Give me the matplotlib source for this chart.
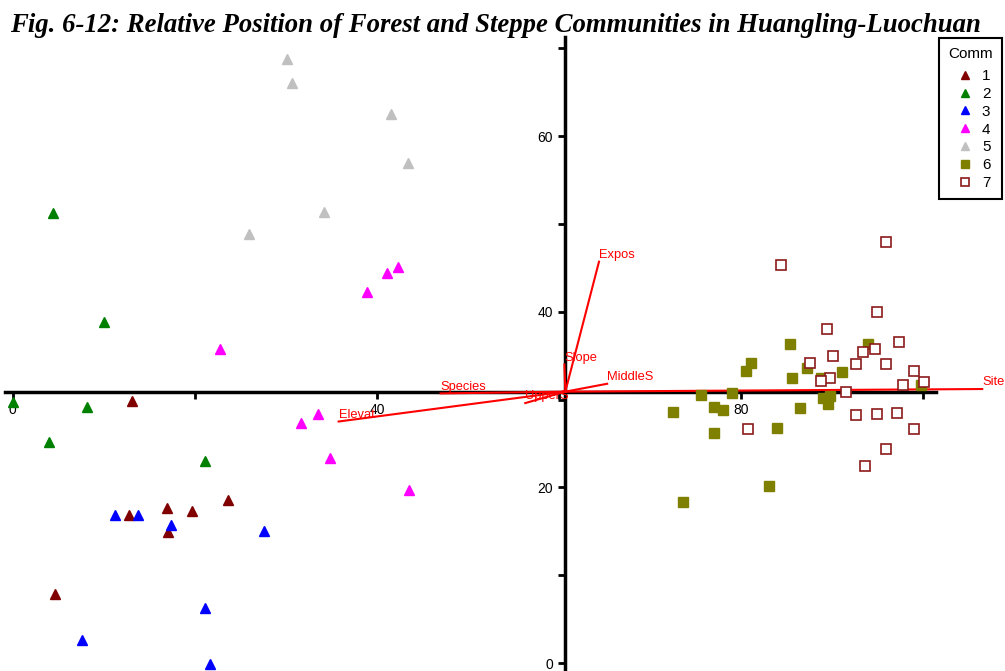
import matplotlib
matplotlib.use('Agg')
import matplotlib.pyplot as plt
from matplotlib.lines import Line2D

plt.rcParams['font.family'] = ['Liberation Sans', 'DejaVu Sans']

# ── Data ─────────────────────────────────────────────────────────────
comm_labels = ['1', '2', '3', '4', '5', '6', '7']

c1_x = [13.1, 4.6, 12.8, 16.9, 19.7, 23.6, 17.0]
c1_y = [29.8, 7.9, 16.8, 17.6, 17.3, 18.6, 14.9]

c2_x = [4.4, 10.0, 0.0, 8.2, 4.0, 21.1]
c2_y = [51.3, 38.8, 29.7, 29.1, 25.2, 23.0]

c3_x = [11.2, 13.8, 17.4, 27.6, 21.1, 7.6, 21.7]
c3_y = [16.8, 16.8, 15.7, 15.0, 6.3, 2.6, -0.1]

c4_x = [42.3, 41.1, 38.9, 22.8, 33.5, 31.7, 34.9, 43.5]
c4_y = [45.1, 44.4, 42.3, 35.8, 28.4, 27.3, 23.3, 19.7]

c5_x = [30.1, 30.7, 41.6, 43.4, 34.2, 25.9]
c5_y = [68.8, 66.0, 62.5, 56.9, 51.4, 48.9]

c6_x = [85.4, 93.9, 81.1, 80.6, 87.3, 85.6, 88.8, 91.1, 75.6, 79.0, 89.0,
        89.8, 89.6, 99.8, 72.5, 77.0, 78.0, 86.5, 77.0, 83.9, 83.1, 73.6]
c6_y = [36.3, 36.3, 34.2, 33.3, 33.6, 32.5, 32.5, 33.1, 30.5, 30.7, 30.2,
        30.4, 29.5, 31.7, 28.6, 29.2, 28.8, 29.0, 26.2, 26.8, 20.2, 18.3]

c7_x = [95.9, 84.4, 94.9, 89.5, 97.4, 94.7, 93.4, 90.1, 87.6, 92.6, 95.9, 99.0,
        89.8, 88.8, 100.1, 97.8, 91.5, 92.6, 94.9, 97.1, 80.8, 99.0, 95.9, 93.6]
c7_y = [47.9, 45.3, 40.0, 38.0, 36.5, 35.8, 35.4, 35.0, 34.2, 34.0, 34.1, 33.3,
        32.4, 32.1, 32.0, 31.7, 30.9, 28.2, 28.4, 28.5, 26.6, 26.6, 24.4, 22.4]

# environmental vectors (endpoints), all drawn from the axis origin
vec_names = ['Expos', 'Slope', 'MiddleS', 'Species', 'Elevat', 'UpperS', 'Site']
vec_x = [64.4, 60.6, 65.3, 47.0, 35.8, 56.3, 106.5]
vec_y = [45.7, 34.0, 31.8, 30.7, 27.5, 29.6, 31.2]
origin = (60.7, 30.9)

x_ticks = [0, 20, 40, 60, 80, 100]
x_ticklabels = ['0', '', '40', '', '80', '']
y_ticks = [0, 10, 20, 30, 40, 50, 60, 70]
y_ticklabels = ['0', '', '20', '', '40', '', '60', '']

# ── Plot ─────────────────────────────────────────────────────────────
fig = plt.figure(figsize=(10.05, 6.71), dpi=100)
ax = fig.add_axes([0, 0, 1, 1])
ax.set_xlim(-1.4, 109.0)
ax.set_ylim(-0.91, 75.5)

tri = dict(marker='^', ms=7, ls='none', zorder=4)
ax.plot(c1_x, c1_y, color='#800000', **tri)
ax.plot(c2_x, c2_y, color='#008000', **tri)
ax.plot(c3_x, c3_y, color='#0000ff', **tri)
ax.plot(c4_x, c4_y, color='#ff00ff', **tri)
ax.plot(c5_x, c5_y, color='#c0c0c0', **tri)
ax.plot(c6_x, c6_y, marker='s', ms=6.5, ls='none', color='#808000', zorder=4)
ax.plot(c7_x, c7_y, marker='s', ms=6.5, ls='none', mfc='white', mec='#8b1a1a',
        mew=1.2, zorder=4)

for name, vx, vy in zip(vec_names, vec_x, vec_y):
    ax.plot([origin[0], vx], [origin[1], vy], color='red', lw=1.5, zorder=3)
    ax.annotate(name, (vx, vy), xytext=(0, 0.5), textcoords='offset points',
                ha='left', va='bottom', color='red', fontsize=9.3, zorder=5)

# crossing axes
for s in ['top', 'right']:
    ax.spines[s].set_visible(False)
ax.spines['left'].set_position(('data', origin[0]))
ax.spines['bottom'].set_position(('data', origin[1]))
ax.spines['left'].set_bounds(-0.91, 71.3)
ax.spines['bottom'].set_bounds(-0.85, 101.4)
for s in ['left', 'bottom']:
    ax.spines[s].set_linewidth(2.5)
    ax.spines[s].set_zorder(2)

ax.set_xticks(x_ticks)
ax.set_xticklabels(x_ticklabels)
ax.set_yticks(y_ticks)
ax.set_yticklabels(y_ticklabels)
ax.tick_params(axis='both', direction='out', length=5, width=2, labelsize=10,
               colors='black')
ax.tick_params(axis='x', pad=3)
ax.tick_params(axis='y', pad=4)

fig.text(0.493, 0.952, 'Fig. 6-12: Relative Position of Forest and Steppe Communities in Huangling-Luochuan',
         ha='center', va='baseline', fontsize=19.3, family='Liberation Serif',
         weight='bold', style='italic')

handles = [
    Line2D([], [], marker='^', ls='none', ms=6, color='#800000'),
    Line2D([], [], marker='^', ls='none', ms=6, color='#008000'),
    Line2D([], [], marker='^', ls='none', ms=6, color='#0000ff'),
    Line2D([], [], marker='^', ls='none', ms=6, color='#ff00ff'),
    Line2D([], [], marker='^', ls='none', ms=6, color='#c0c0c0'),
    Line2D([], [], marker='s', ls='none', ms=6, color='#808000'),
    Line2D([], [], marker='s', ls='none', ms=6, mfc='white', mec='#8b1a1a', mew=1.2),
]
leg = ax.legend(handles, comm_labels, title='Comm', loc='upper right',
                bbox_to_anchor=(0.997, 0.9434), bbox_transform=fig.transFigure,
                borderaxespad=0,
                fontsize=11, title_fontsize=11, frameon=True, fancybox=False,
                edgecolor='black', framealpha=1, handlelength=1.9,
                handletextpad=0.15, labelspacing=0.25, borderpad=0.6)
leg.get_frame().set_linewidth(1.5)
leg._legend_box.align = 'center'
leg._legend_box.sep = 5.8   # a little more room under the "Comm" title

plt.savefig('out.png', dpi=100)
plt.close()
